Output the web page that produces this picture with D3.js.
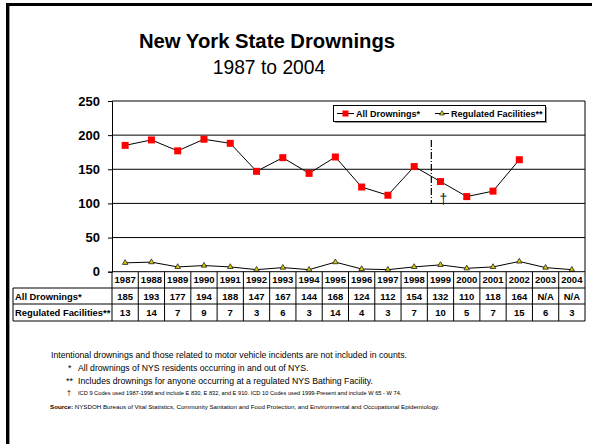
<!DOCTYPE html>
<html><head><meta charset="utf-8">
<script src="https://cdn.jsdelivr.net/npm/d3@7/dist/d3.min.js"></script>
<style>
html,body{margin:0;padding:0;background:#fff;overflow:hidden;}
svg{display:block;}
svg text{font-family:Arial,"Liberation Sans",sans-serif;}
</style></head>
<body><svg id="c" width="592" height="444"></svg>
<script>
const years = ["1987","1988","1989","1990","1991","1992","1993","1994","1995","1996","1997","1998","1999","2000","2001","2002","2003","2004"];
const allDrownings = [185,193,177,194,188,147,167,144,168,124,112,154,132,110,118,164,null,null];
const regulated = [13,14,7,9,7,3,6,3,14,4,3,7,10,5,7,15,6,3];
const yTicks = [0,50,100,150,200,250];
const seriesNames = ["All Drownings*","Regulated Facilities**"];
const footnotes = [
  {mark:"", text:"Intentional drownings and those related to motor vehicle incidents are not included in counts."},
  {mark:"*", text:"All drownings of NYS residents occurring in and out of NYS."},
  {mark:"**", text:"Includes drownings for anyone occurring at a regulated NYS Bathing Facility."},
  {mark:"\u2020", text:"ICD 9 Codes used 1987-1998 and include E 830, E 832, and E 910.   ICD 10 Codes used 1999-Present and include W 65 - W 74."}
];
const sourceLabel = "Source:";
const sourceText = " NYSDOH Bureaus of Vital Statistics, Community Sanitation and Food Protection, and Environmental and Occupational Epidemiology.";

const svg = d3.select("#c");
// outer frame (left and top edges only visible)
svg.append("line").attr("x1",9.5).attr("y1",6).attr("x2",9.5).attr("y2",444).attr("stroke","#999").attr("stroke-width",1);
svg.append("path").attr("d","M7.5,444 L7.5,4.5 L592,4.5")
  .attr("fill","none").attr("stroke","#000").attr("stroke-width",3);

// titles
svg.append("text").attr("x",267).attr("y",48).attr("text-anchor","middle")
  .attr("font-size",20.3).attr("font-weight","bold").text("New York State Drownings");
svg.append("text").attr("x",269).attr("y",74).attr("text-anchor","middle")
  .attr("font-size",19.3).text("1987 to 2004");

const L=112, R=585, T=101, B=271.7;
const x = d3.scaleBand().domain(years).range([L,R]).padding(0);
const y = d3.scaleLinear().domain([0,250]).range([B,T]);
const bw = x.bandwidth();
const cx = d => x(d)+bw/2;

// gridlines
svg.append("g").selectAll("line").data(yTicks.filter(t=>t>0)).join("line")
  .attr("x1",L).attr("x2",R).attr("y1",d=>y(d)).attr("y2",d=>y(d))
  .attr("stroke","#000").attr("stroke-width",1);
svg.append("line").attr("x1",R).attr("x2",R).attr("y1",T).attr("y2",B).attr("stroke","#000");

// y axis
const yAxis = d3.axisLeft(y).tickValues(yTicks).tickSize(4).tickPadding(8);
const ga = svg.append("g").attr("transform",`translate(${L},0)`).call(yAxis);
ga.select(".domain").attr("stroke","#000");
ga.selectAll(".tick line").attr("stroke","#000");
ga.selectAll("text").attr("font-size",13).attr("font-weight","bold").attr("fill","#000")
  .attr("font-family","Arial, 'Liberation Sans', sans-serif");

// dash-dot divider
svg.append("line").attr("x1",x("1999")+4).attr("x2",x("1999")+4)
  .attr("y1",y(193)).attr("y2",y(100)).attr("stroke","#000").attr("stroke-width",1.2)
  .attr("stroke-dasharray","7,2,1,2");
svg.append("text").attr("x",cx("1999")+3).attr("y",y(100)+1).attr("text-anchor","middle")
  .attr("font-size",14).attr("fill","#222").text("\u2020");

// series lines
const ptsA = years.map((yr,i)=>({yr,v:allDrownings[i]})).filter(d=>d.v!==null);
const ptsR = years.map((yr,i)=>({yr,v:regulated[i]}));
const line = d3.line().x(d=>cx(d.yr)).y(d=>y(d.v));
svg.append("path").datum(ptsA).attr("d",line).attr("fill","none").attr("stroke","#000").attr("stroke-width",1);
svg.append("path").datum(ptsR).attr("d",line).attr("fill","none").attr("stroke","#000").attr("stroke-width",1);
svg.append("g").selectAll("rect").data(ptsA).join("rect")
  .attr("x",d=>cx(d.yr)-3.5).attr("y",d=>y(d.v)-3.5).attr("width",7).attr("height",7).attr("fill","#f00");
const tri = d3.symbol().type(d3.symbolTriangle).size(13);
svg.append("g").selectAll("path").data(ptsR).join("path")
  .attr("transform",d=>`translate(${cx(d.yr)},${y(d.v)})`).attr("d",tri)
  .attr("fill","#d8cc00").attr("stroke","#222").attr("stroke-width",0.8);

// legend
const lg = svg.append("g");
lg.append("rect").attr("x",335).attr("y",107).attr("width",212).attr("height",16).attr("fill","#999");
lg.append("rect").attr("x",333.5).attr("y",105.5).attr("width",212).attr("height",16).attr("fill","#fff").attr("stroke","#000");
lg.append("line").attr("x1",337).attr("x2",354).attr("y1",113.5).attr("y2",113.5).attr("stroke","#000");
lg.append("rect").attr("x",342.5).attr("y",110.5).attr("width",6).attr("height",6).attr("fill","#f00");
lg.append("text").attr("x",356).attr("y",117).attr("font-size",9).attr("font-weight","bold").text(seriesNames[0]);
lg.append("line").attr("x1",435).attr("x2",449).attr("y1",113.5).attr("y2",113.5).attr("stroke","#000");
lg.append("path").attr("transform","translate(442,113.5)").attr("d",d3.symbol().type(d3.symbolTriangle).size(11))
  .attr("fill","#d8cc00").attr("stroke","#222").attr("stroke-width",0.7);
lg.append("text").attr("x",451).attr("y",117).attr("font-size",9).attr("font-weight","bold").text(seriesNames[1]);

// data table
const rowY = [B, 288, 304, 321];
const tbl = svg.append("g");
tbl.append("line").attr("x1",L).attr("x2",R).attr("y1",rowY[1]).attr("y2",rowY[1]).attr("stroke","#000");
tbl.append("line").attr("x1",13).attr("x2",L).attr("y1",rowY[1]).attr("y2",rowY[1]).attr("stroke","#000");
tbl.append("line").attr("x1",13).attr("x2",R).attr("y1",rowY[2]).attr("y2",rowY[2]).attr("stroke","#000");
tbl.append("line").attr("x1",13).attr("x2",R).attr("y1",rowY[3]).attr("y2",rowY[3]).attr("stroke","#000");
tbl.append("line").attr("x1",L).attr("x2",R).attr("y1",B).attr("y2",B).attr("stroke","#000");
const vx = years.map(yr=>x(yr)).concat([R]);
tbl.selectAll("line.v").data(vx).join("line").attr("class","v")
  .attr("x1",d=>d).attr("x2",d=>d).attr("y1",B).attr("y2",rowY[3]).attr("stroke","#000");
tbl.append("line").attr("x1",13).attr("x2",13).attr("y1",rowY[1]).attr("y2",rowY[3]).attr("stroke","#000");
tbl.selectAll("text.yr").data(years).join("text").attr("class","yr")
  .attr("x",d=>cx(d)).attr("y",(rowY[0]+rowY[1])/2+3.5).attr("text-anchor","middle")
  .attr("font-size",9.5).attr("font-weight","bold").text(d=>d);
tbl.selectAll("text.a").data(years).join("text").attr("class","a")
  .attr("x",d=>cx(d)).attr("y",(rowY[1]+rowY[2])/2+3.5).attr("text-anchor","middle")
  .attr("font-size",9.5).attr("font-weight","bold").text((d,i)=>allDrownings[i]===null?"N/A":allDrownings[i]);
tbl.selectAll("text.r").data(years).join("text").attr("class","r")
  .attr("x",d=>cx(d)).attr("y",(rowY[2]+rowY[3])/2+3.5).attr("text-anchor","middle")
  .attr("font-size",9.5).attr("font-weight","bold").text((d,i)=>regulated[i]);
tbl.append("text").attr("x",15).attr("y",(rowY[1]+rowY[2])/2+3.5).attr("font-size",9.4).attr("font-weight","bold").text(seriesNames[0]);
tbl.append("text").attr("x",15).attr("y",(rowY[2]+rowY[3])/2+3.5).attr("font-size",9.4).attr("font-weight","bold").text(seriesNames[1]);

// footnotes
const fy = [358, 371, 384, 395];
footnotes.forEach((f,i)=>{
  const fs = i===3 ? 5.7 : 8.7;
  if (f.mark) {
    svg.append("text").attr("x", i===3?67:(f.mark.length>1?66:68)).attr("y",fy[i]).attr("font-size",i===3?7:fs).attr("fill","#000").text(f.mark);
    svg.append("text").attr("x",78).attr("y",fy[i]).attr("font-size",fs).attr("fill","#000").text(f.text);
  } else {
    svg.append("text").attr("x",51).attr("y",fy[i]).attr("font-size",fs).attr("fill","#000").text(f.text);
  }
});
const st = svg.append("text").attr("x",50).attr("y",409).attr("font-size",6.2);
st.append("tspan").attr("font-weight","bold").text(sourceLabel);
st.append("tspan").text(sourceText);
</script></body></html>
